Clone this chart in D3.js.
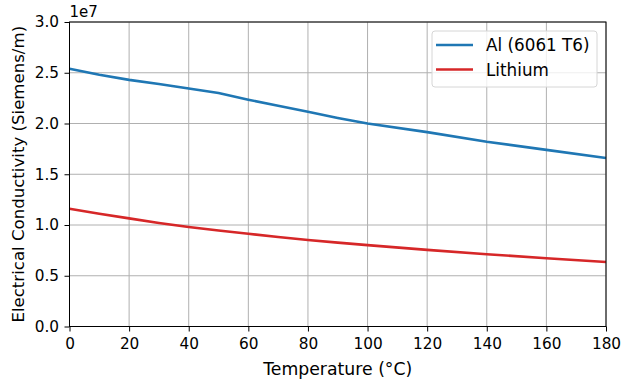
<!DOCTYPE html>
<html><head><meta charset="utf-8">
<script src="https://cdn.jsdelivr.net/npm/d3@7"></script>
<style>body{margin:0;background:#fff}svg{font-family:"DejaVu Sans",sans-serif}</style>
</head><body><svg id="c" width="623" height="385"></svg>
<script>
const temps = [0,10,20,30,40,50,60,70,80,90,100,120,140,160,180];
const aluminum = [2.54,2.48,2.43,2.39,2.345,2.30,2.235,2.175,2.115,2.055,2.00,1.915,1.82,1.74,1.66];
const lithium = [1.16,1.11,1.065,1.02,0.98,0.945,0.913,0.882,0.852,0.826,0.802,0.755,0.712,0.672,0.635];
const seriesNames = ["Al (6061 T6)","Lithium"];
const seriesColors = ["#1f77b4","#d62728"];
const xTicks = [0,20,40,60,80,100,120,140,160,180];
const yTicks = [0,0.5,1.0,1.5,2.0,2.5,3.0];

const svg = d3.select("#c");
const L=69.5,R=606,T=22,B=326.5;
const x = d3.scaleLinear().domain([0,180]).range([L,R]);
const y = d3.scaleLinear().domain([0,3.0]).range([B,T]);

// grid
svg.append("g").selectAll("line").data(xTicks).join("line")
 .attr("x1",d=>x(d)).attr("x2",d=>x(d)).attr("y1",T).attr("y2",B)
 .attr("stroke","#b0b0b0").attr("stroke-width",1);
svg.append("g").selectAll("line").data(yTicks).join("line")
 .attr("x1",L).attr("x2",R).attr("y1",d=>y(d)).attr("y2",d=>y(d))
 .attr("stroke","#b0b0b0").attr("stroke-width",1);

// lines
const data=[aluminum,lithium];
const line=d3.line().x((d,i)=>x(temps[i])).y(d=>y(d));
data.forEach((s,k)=>{
 svg.append("path").datum(s).attr("d",line).attr("fill","none")
  .attr("stroke",seriesColors[k]).attr("stroke-width",2.6).attr("stroke-linejoin","round");
});

// axes
const xa = svg.append("g").attr("transform",`translate(0,${B})`)
 .call(d3.axisBottom(x).tickValues(xTicks).tickSize(5).tickPadding(4.5).tickFormat(d3.format("d")));
const ya = svg.append("g").attr("transform",`translate(${L},0)`)
 .call(d3.axisLeft(y).tickValues(yTicks).tickSize(5).tickPadding(5.5).tickFormat(d3.format(".1f")));
[xa,ya].forEach(a=>{a.select(".domain").remove();a.selectAll("text").attr("font-size",15.3).attr("fill","#000").attr("font-family","DejaVu Sans");a.selectAll("line").attr("stroke","#000").attr("stroke-width",1);});
xa.selectAll("text").attr("dy","0.85em");

// frame
svg.append("rect").attr("x",L).attr("y",T).attr("width",R-L).attr("height",B-T)
 .attr("fill","none").attr("stroke","#000").attr("stroke-width",1);

// labels
svg.append("text").attr("x",(L+R)/2).attr("y",375).attr("text-anchor","middle")
 .attr("font-size",17.3).text("Temperature (°C)");
svg.append("text").attr("transform",`translate(24,${(T+B)/2}) rotate(-90)`).attr("text-anchor","middle")
 .attr("font-size",16.6).text("Electrical Conductivity (Siemens/m)");
svg.append("text").attr("x",L).attr("y",17).attr("font-size",15).text("1e7");

// legend
const lg=svg.append("g");
lg.append("rect").attr("x",432).attr("y",31).attr("width",165).attr("height",56).attr("rx",3)
 .attr("fill","#fff").attr("fill-opacity",0.8).attr("stroke","#d6d6d6");
seriesNames.forEach((n,i)=>{
 const yy=45+i*24.5;
 lg.append("line").attr("x1",436).attr("x2",473).attr("y1",yy).attr("y2",yy)
  .attr("stroke",seriesColors[i]).attr("stroke-width",2.6);
 lg.append("text").attr("x",486).attr("y",yy+6).attr("font-size",16.8).text(n);
});
</script></body></html>
